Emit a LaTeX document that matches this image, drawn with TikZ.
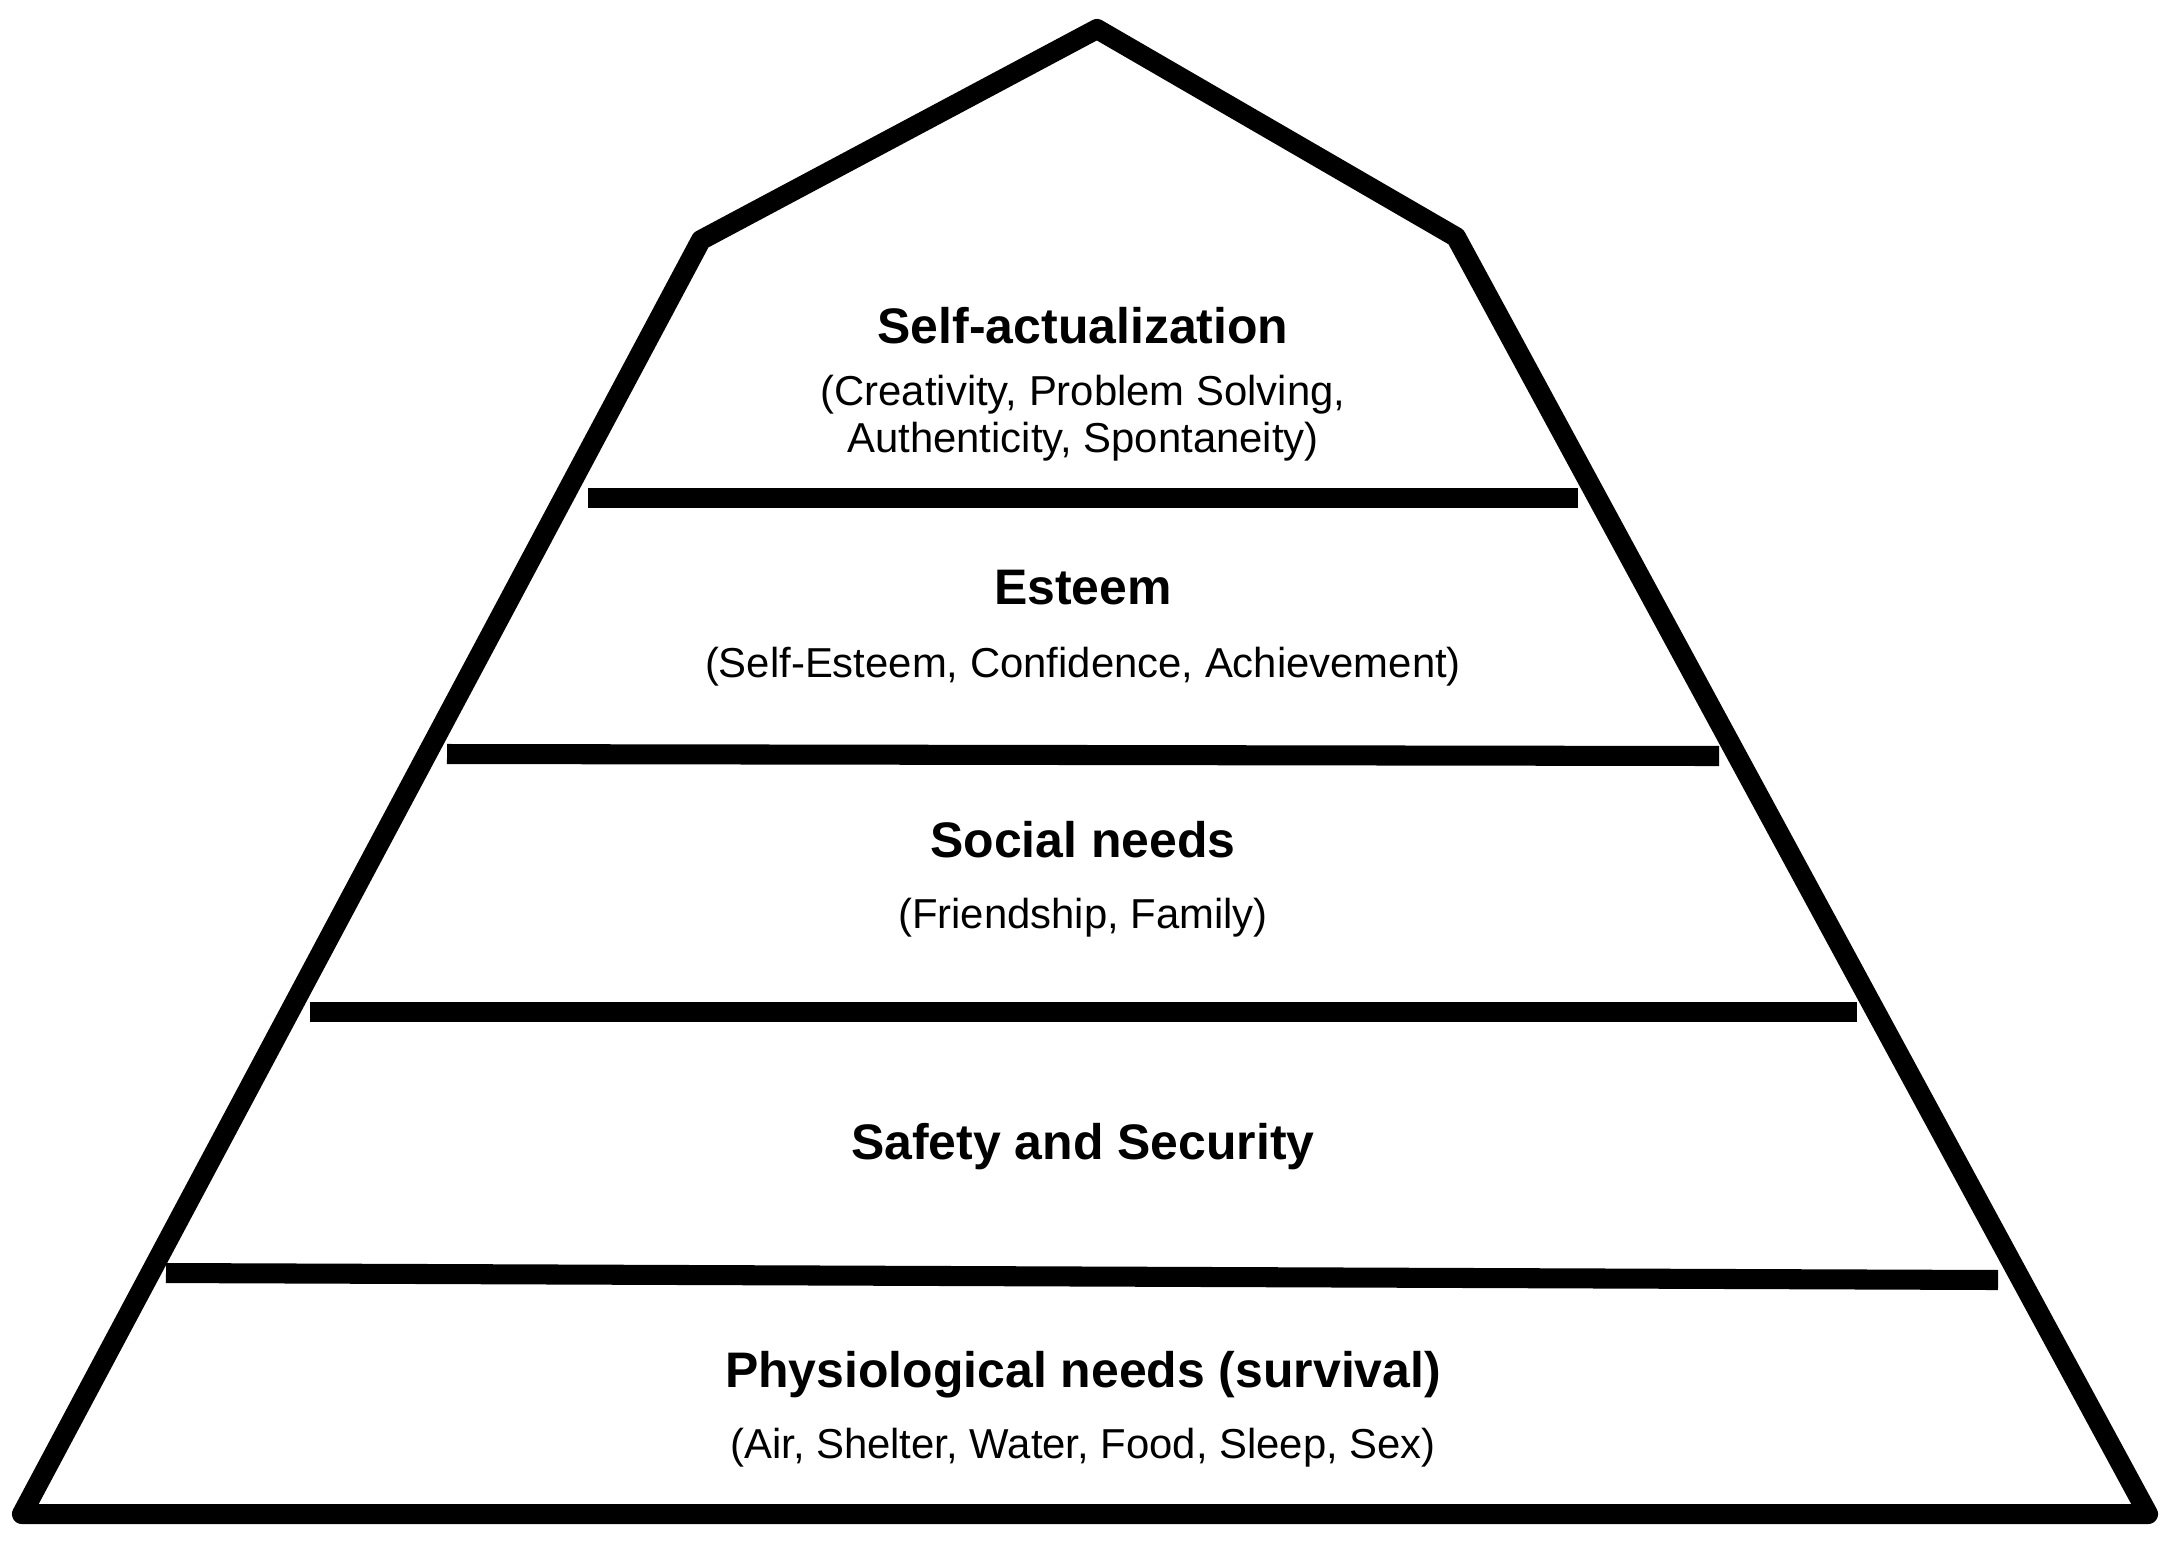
\documentclass[tikz,border=0pt]{standalone}
\usepackage{fontspec}
\setmainfont{Liberation Sans}

\begin{document}
\begin{tikzpicture}[x=0.01cm, y=-0.01cm,
    level/.style={anchor=base, font=\fontsize{14.2}{17}\selectfont\bfseries},
    detail/.style={anchor=base, align=center, font=\fontsize{11.9}{13.1}\selectfont},
    shelf/.style={line width=5.7pt, line cap=butt}]
            \useasboundingbox (0,0) rectangle (2167,1542);

            % corners of the pyramid
            \coordinate (bl) at (22,1514);
            \coordinate (sl) at (701,240);
            \coordinate (apex) at (1097,29);
            \coordinate (sr) at (1456,237);
            \coordinate (br) at (2148,1514);
            \draw[line width=5.7pt, line join=round] (bl) -- (sl) -- (apex) -- (sr) -- (br) -- cycle;

            % shelves between the levels
            \draw[shelf] (588,498) -- (1578,498);
            \draw[shelf] (447,754) -- (1719,756);
            \draw[shelf] (310,1012) -- (1857,1012);
            \draw[shelf] (166,1273) -- (1998,1280);

            % levels, top to bottom (base of a two-line node is its last line)
            \node[level] (self) at (1083,343) {Self-actualization};
            \node[detail] (selfd) at (1083,452) {(Creativity, Problem Solving,\\Authenticity, Spontaneity)};
            \node[level] (esteem) at (1083,604) {Esteem};
            \node[detail] (esteemd) at (1083,677) {(Self-Esteem, Confidence, Achievement)};
            \node[level] (social) at (1083,857) {Social needs};
            \node[detail] (sociald) at (1083,928) {(Friendship, Family)};
            \node[level] (safety) at (1083,1159) {Safety and Security};
            \node[level] (physio) at (1083,1387) {Physiological needs (survival)};
            \node[detail] (physiod) at (1083,1458) {(Air, Shelter, Water, Food, Sleep, Sex)};
        \end{tikzpicture}
\end{document}
